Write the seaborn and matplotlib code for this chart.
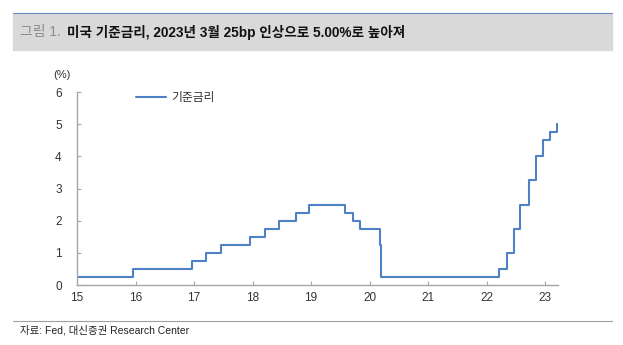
import matplotlib
matplotlib.use("Agg")
import matplotlib.pyplot as plt
import seaborn as sns
import pandas as pd
from matplotlib.lines import Line2D

sns.set_style("white")
plt.rcParams['font.family'] = ['Liberation Sans', 'Noto Sans CJK KR', 'DejaVu Sans']

# Data: Fed funds target (upper bound), change dates as fractional years
dates = [2015.0, 2015.96, 2016.96, 2017.20, 2017.46, 2017.96, 2018.21, 2018.46,
         2018.74, 2018.97, 2019.58, 2019.72, 2019.83, 2020.17, 2020.20, 2022.21,
         2022.34, 2022.46, 2022.57, 2022.72, 2022.84, 2022.96, 2023.08, 2023.21, 2023.22]
rates = [0.25, 0.50, 0.75, 1.00, 1.25, 1.50, 1.75, 2.00,
         2.25, 2.50, 2.25, 2.00, 1.75, 1.25, 0.25, 0.50,
         1.00, 1.75, 2.50, 3.25, 4.00, 4.50, 4.75, 5.00, 5.00]
series_name = "기준금리"
xticks = [15, 16, 17, 18, 19, 20, 21, 22, 23]
yticks = [0, 1, 2, 3, 4, 5, 6]

df = pd.DataFrame({"x": [d - 2000 for d in dates], "y": rates})

W, H = 623, 345
fig = plt.figure(figsize=(W / 100, H / 100), dpi=100)
ax = fig.add_axes([77 / W, 1 - 285 / H, (558 - 77) / W, (285 - 92) / H])

color = "#4F81C7"
sns.lineplot(data=df, x="x", y="y", ax=ax, color=color, lw=1.5,
             drawstyle="steps-post", label=series_name)

ax.set_xlim(15, 23.22)
ax.set_ylim(0, 6)
ax.set_xticks(xticks)
ax.set_xticklabels([str(t) for t in xticks])
ax.set_yticks(yticks)
ax.set_xlabel("")
ax.set_ylabel("")
for s in ["top", "right"]:
    ax.spines[s].set_visible(False)
for s in ["left", "bottom"]:
    ax.spines[s].set_color("#A6A6A6")
    ax.spines[s].set_linewidth(1.0)
ax.tick_params(axis="both", direction="in", length=3, color="#A6A6A6",
               labelsize=8.5, labelcolor="#333333")
ax.tick_params(axis="x", bottom=True, pad=5)
ax.tick_params(axis="y", left=True, pad=11)

leg = ax.legend(loc="upper left", bbox_to_anchor=(0.1, 1.055), frameon=False,
                fontsize=8.5, handlelength=2.6, handletextpad=0.4)
for t in leg.get_texts():
    t.set_color("#333333")

fig.text(53 / W, 1 - 75 / H, "(%)", fontsize=8, color="#333333",
         ha="left", va="center")

# Title bar
fig.patches.append(plt.Rectangle((13 / W, 1 - 50 / H), (612 - 13) / W, 37 / H,
                                 transform=fig.transFigure, color="#D9D9D9", zorder=0))
fig.lines.append(Line2D([13 / W, 612 / W], [1 - 13 / H, 1 - 13 / H],
                        transform=fig.transFigure, color="#6F8FC6", lw=0.8))
fig.text(20 / W, 1 - 32 / H, "그림 1.", fontsize=10, color="#8C8C8C",
         ha="left", va="center")
fig.text(67 / W, 1 - 32 / H, "미국 기준금리, 2023년 3월 25bp 인상으로 5.00%로 높아져",
         fontsize=9.8, fontweight="bold", color="#111111", ha="left", va="center")

# Footer
fig.lines.append(Line2D([13 / W, 612 / W], [1 - 321 / H, 1 - 321 / H],
                        transform=fig.transFigure, color="#A0A0A0", lw=0.8))
fig.text(20 / W, 1 - 330 / H, "자료: Fed, 대신증권 Research Center", fontsize=7.5,
         color="#222222", ha="left", va="center")

fig.savefig("out.png", dpi=100)
